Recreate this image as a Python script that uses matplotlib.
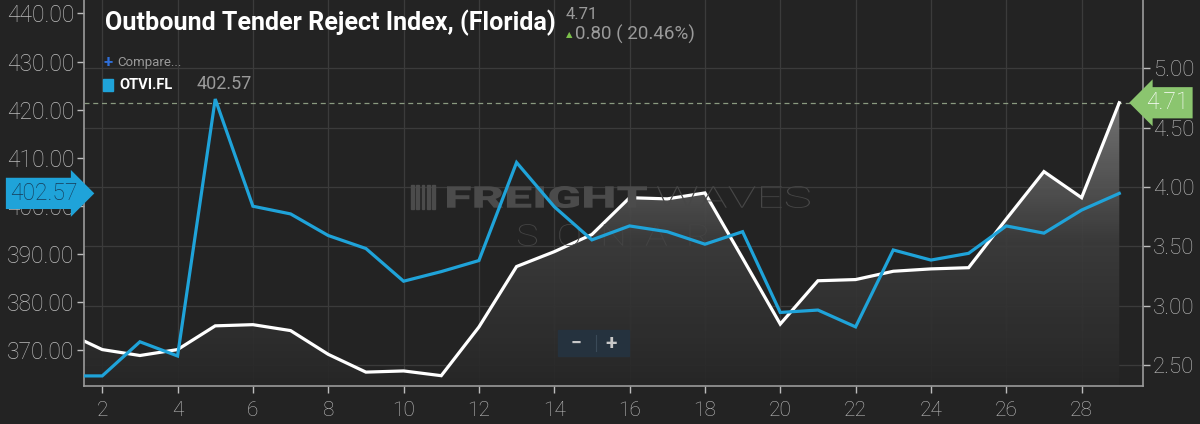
import numpy as np
import matplotlib
matplotlib.use("Agg")
import matplotlib.pyplot as plt
from matplotlib.colors import LinearSegmentedColormap
from matplotlib.patches import Rectangle, PathPatch
from matplotlib.textpath import TextPath
from matplotlib.font_manager import FontProperties
from matplotlib.transforms import Affine2D

# data
days = list(range(1, 30))
otvi_fl = [364.6, 364.6, 371.7, 368.75, 422.2, 399.9, 398.3, 393.8, 391.1, 384.3,
           386.3, 388.6, 409.0, 399.8, 392.9, 395.8, 394.6, 392.0, 394.6, 377.8,
           378.3, 374.8, 390.8, 388.7, 390.1, 395.8, 394.3, 399.1, 402.57]
otri_fl = [2.78, 2.63, 2.58, 2.63, 2.83, 2.84, 2.79, 2.59, 2.44, 2.45,
           2.41, 2.82, 3.33, 3.455, 3.60, 3.91, 3.90, 3.95, 3.40, 2.845,
           3.21, 3.22, 3.29, 3.31, 3.32, 3.73, 4.13, 3.91, 4.71]
left_ticks = [370, 380, 390, 400, 410, 420, 430, 440]
right_ticks = [2.5, 3.0, 3.5, 4.0, 4.5, 5.0]
x_ticks = list(range(2, 30, 2))
title = "Outbound Tender Reject Index, (Florida)"
series_name = "OTVI.FL"

W, H = 1200, 424
bg = "#232323"
blue = "#1fa3d9"
tick_col = "#bdbdbd"
plt.rcParams['font.family'] = ['Roboto', 'DejaVu Sans']

fig = plt.figure(figsize=(W / 100, H / 100), dpi=100, facecolor=bg)
ax2 = fig.add_axes([0.07, 0.0896, 0.8825, 0.9104])   # right axis (white series)
ax1 = ax2.twinx()                                    # left axis (blue series)
ax1.yaxis.tick_left()
ax1.yaxis.set_label_position("left")
ax2.yaxis.tick_right()
ax1.set_zorder(ax2.get_zorder() + 1)
ax1.patch.set_visible(False)
ax2.set_facecolor(bg)

xlim = (1.516, 29.63)
ylim2 = (2.323, 5.576)
ylim1 = (362.5, 442.8)


def stretched_text(s, x0, x1, yc, cap_h, weight, color):
    # text squeezed/stretched into a pixel box (x from left, y from top)
    tp = TextPath((0, 0), s, size=1, prop=FontProperties(family="Roboto", weight=weight))
    ext = tp.get_extents()
    sx = (x1 - x0) / ext.width
    sy = cap_h / ext.height
    tr = Affine2D().translate(-ext.x0, -ext.y0).scale(sx, sy).translate(x0, H - yc - cap_h / 2)
    fig.patches.append(PathPatch(tr.transform_path(tp), fc=color, ec="none", zorder=0,
                                 transform=None))


# watermark
stretched_text("FREIGHT", 447, 647, 197, 22, "heavy", "#4b4b4b")
stretched_text("WAVES", 657, 810, 197, 22, "light", "#474747")
stretched_text("S  O  N  A  R", 518, 708, 235, 22, "light", "#444444")
for i in range(5):
    fig.patches.append(Rectangle((411 + i * 5.3, H - 209), 2.6, 24, transform=None,
                                 color="#4b4b4b", zorder=0))

# gradient fill under the white line
cmap = LinearSegmentedColormap.from_list("fw", ["#272727", "#3c3c3c", "#7c7c7c"])
grad = np.linspace(0, 1, 256).reshape(-1, 1)
img = ax2.imshow(grad, extent=[days[0], days[-1], ylim2[0], 4.75], origin="lower",
                 aspect="auto", cmap=cmap, zorder=1, alpha=0.92)
poly = ax2.fill_between(days, otri_fl, ylim2[0], color="none", lw=0)
img.set_clip_path(poly.get_paths()[0], transform=ax2.transData)
ax2.plot(days, otri_fl, color="white", lw=2.3, zorder=3, solid_joinstyle="miter")
ax2.axhline(otri_fl[-1], color="#8a9a80", lw=0.9, ls=(0, (4, 3)), zorder=2)

ax1.plot(days, otvi_fl, color=blue, lw=2.3, zorder=4, solid_joinstyle="miter")

ax2.set_xlim(*xlim)
ax2.set_ylim(*ylim2)
ax1.set_ylim(*ylim1)

ax2.set_xticks(x_ticks)
ax2.set_yticks(right_ticks)
ax2.set_yticklabels([f"{v:.2f}" for v in right_ticks])
ax1.set_yticks(left_ticks)
ax1.set_yticklabels([f"{v:.2f}" for v in left_ticks])
ax2.grid(True, color="#3b3b3b", lw=0.9, zorder=0)
ax2.set_axisbelow(True)

for a in (ax1, ax2):
    for s in a.spines.values():
        s.set_visible(False)
ax2.spines["bottom"].set_visible(True)
ax2.spines["right"].set_visible(True)
ax1.spines["left"].set_visible(True)
for s in (ax2.spines["bottom"], ax2.spines["right"], ax1.spines["left"]):
    s.set_color("#9a9a9a")
    s.set_linewidth(1.2)

ax2.tick_params(axis="x", colors=tick_col, length=5, width=1, labelsize=15, pad=6)
ax2.tick_params(axis="y", colors=tick_col, length=5, width=1, labelsize=16, pad=2)
ax1.tick_params(axis="y", colors=tick_col, length=5, width=1, labelsize=16.5, pad=2)
for lab in ax1.get_yticklabels() + ax2.get_yticklabels() + ax2.get_xticklabels():
    lab.set_fontweight("light")
    lab.set_color(tick_col)

# price badges
ax1.annotate(f"{otvi_fl[-1]:.2f}", xy=(0, otvi_fl[-1]), xycoords=ax1.get_yaxis_transform(),
             xytext=(-74, 0), textcoords="offset pixels", ha="left", va="center",
             fontsize=16.5, color="#163b57", fontweight="light", zorder=10,
             annotation_clip=False,
             bbox=dict(boxstyle="rarrow,pad=0.18", fc=blue, ec="none"))
ax2.annotate(f"{otri_fl[-1]:.2f}", xy=(1, otri_fl[-1]), xycoords=ax2.get_yaxis_transform(),
             xytext=(3, 0), textcoords="offset pixels", ha="left", va="center",
             fontsize=16.5, color="white", fontweight="light", zorder=10,
             annotation_clip=False,
             bbox=dict(boxstyle="larrow,pad=0.18", fc="#8bc56f", ec="none"))

# header
last, prev = otri_fl[-1], otri_fl[-2]
chg = last - prev
fig.text(0.0875, 0.945, title, fontsize=18.1, fontweight="bold", color="white",
         ha="left", va="center")
fig.text(0.4715, 0.966, f"{last:.2f}", fontsize=12, color="#9a9a9a", ha="left", va="center")
fig.text(0.4715, 0.918, "\u25B2", fontsize=6, color="#7cc04b", ha="left", va="center")
fig.text(0.479, 0.918, f"{chg:.2f} ( {chg / prev * 100:.2f}%)", fontsize=13.5,
         color="#9a9a9a", ha="left", va="center")
fig.text(0.086, 0.853, "+", fontsize=12, fontweight="bold", color="#2f6fd8",
         ha="left", va="center")
fig.text(0.098, 0.853, "Compare...", fontsize=9.5, color="#9a9a9a", ha="left", va="center")
fig.patches.append(Rectangle((0.086, 0.785), 0.0078, 0.028, transform=fig.transFigure,
                             color=blue))
fig.text(0.0995, 0.8, series_name, fontsize=10.5, fontweight="bold", color="white",
         ha="left", va="center")
fig.text(0.164, 0.802, f"{otvi_fl[-1]:.2f}", fontsize=13, color="#9a9a9a",
         ha="left", va="center")

# zoom control
fig.patches.append(Rectangle((0.465, 0.16), 0.059, 0.061, transform=fig.transFigure,
                             color="#25323e", zorder=5))
fig.text(0.48, 0.19, "\u2212", fontsize=14, fontweight="bold", color="#c8c8c8",
         ha="center", va="center", zorder=6)
fig.text(0.509, 0.19, "+", fontsize=15, fontweight="bold", color="#c8c8c8",
         ha="center", va="center", zorder=6)
fig.lines.append(plt.Line2D([0.4965, 0.4965], [0.172, 0.21], transform=fig.transFigure,
                            color="#3a4a58", lw=0.8, zorder=6))

fig.savefig("out.png", dpi=100, facecolor=bg)
